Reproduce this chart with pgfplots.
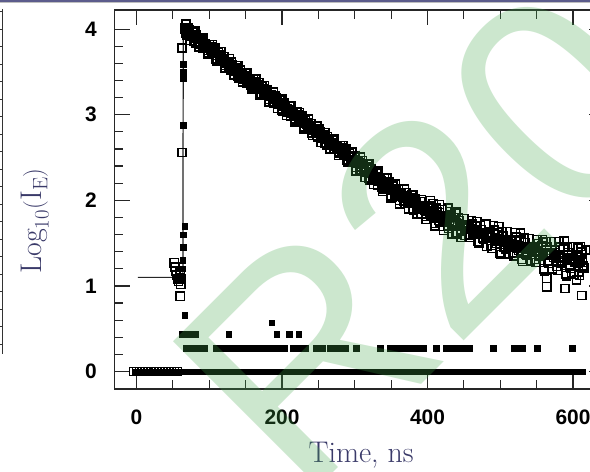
\documentclass[border=0pt]{standalone}
\usepackage{fontspec}
\usepackage{pgfplots}
\pgfplotsset{compat=1.18}
\newfontfamily\tickfont{Liberation Sans}
\newfontfamily\wmfont{Liberation Sans}
\definecolor{navy}{RGB}{58,58,105}
\definecolor{wmgreen}{RGB}{67,168,75}
\definecolor{barblue}{RGB}{92,92,140}
\begin{document}
\begin{tikzpicture}[x=1bp,y=1bp]
\path[use as bounding box] (0,0) rectangle (590,472);
\begin{scope}
\clip (0,0) rectangle (590,472);
\fill[white] (0,0) rectangle (590,472);
\fill[barblue] (0,469.7) rectangle (590,472);
\fill[black!25] (0,468.8) rectangle (590,469.7);
\draw[line width=1.1bp, black!80] (2.7,463) -- (2.7,118);
\foreach \yy in {11.7,29.2,...,346} \draw[line width=1bp, black!80] (0,472-\yy) -- (2.7,472-\yy);
\begin{axis}[
  at={(114.5bp,83bp)}, anchor=south west,
  scale only axis, width=489.76bp, height=378.95bp,
  xmin=-30.2, xmax=643, ymin=-0.204, ymax=4.223,
  axis line style={line width=1.3bp, black!85},
  tick align=inside, xtick pos=both, ytick pos=both,
  xticklabel pos=lower, yticklabel pos=left,
  major tick length=15bp, minor tick length=8.5bp,
  major tick style={line width=1.2bp, black!85},
  minor tick style={line width=1.2bp, black!85},
  xtick={0,200,400,600}, minor x tick num=3,
  ytick={0,1,2,3,4}, minor y tick num=4,
  /pgf/number format/assume math mode=true,
  tick label style={font=\tickfont\bfseries\fontsize{21}{21}\selectfont, inner sep=0pt},
  xticklabel style={anchor=north, yshift=-21bp},
  yticklabel style={anchor=east, xshift=-17.5bp},
  xlabel={Time, ns},
  ylabel={$\mathrm{Log}_{10}(\mathrm{I}_{\mathrm{E}})$},
  label style={font=\fontsize{30}{36}\selectfont, text=navy},
  xlabel style={at={(axis description cs:0.5036,-0.195)}, anchor=base},
  ylabel style={at={(axis description cs:-0.1624,0.443)}, anchor=center},
  clip=false,
]
% instrument response (filled squares)
\addplot[only marks, mark=square*, mark size=2.8bp, mark options={fill=black, draw=black, line width=0.4bp}] coordinates {
(-2,0)(3,0)(8,0)(13,0)(18,0)(23,0)(28,0)(33,0)(38,0)(43,0)(48,0)(53,0)(58,0)(63,0)(68,0)(73,0)(78,0)(83,0)(88,0)(93,0)(98,0)
(103,0)(108,0)(113,0)(118,0)(123,0)(128,0)(133,0)(138,0)(143,0)(148,0)(153,0)(158,0)(163,0)(168,0)(173,0)(178,0)(183,0)(188,0)(193,0)(198,0)
(203,0)(208,0)(213,0)(218,0)(223,0)(228,0)(233,0)(238,0)(243,0)(248,0)(253,0)(258,0)(263,0)(268,0)(273,0)(278,0)(283,0)(288,0)(293,0)(298,0)
(303,0)(308,0)(313,0)(318,0)(323,0)(328,0)(333,0)(338,0)(343,0)(348,0)(353,0)(358,0)(363,0)(368,0)(373,0)(378,0)(383,0)(388,0)(393,0)(398,0)
(403,0)(408,0)(413,0)(418,0)(423,0)(428,0)(433,0)(438,0)(443,0)(448,0)(453,0)(458,0)(463,0)(468,0)(473,0)(478,0)(483,0)(488,0)(493,0)(498,0)
(503,0)(508,0)(513,0)(518,0)(523,0)(528,0)(533,0)(538,0)(543,0)(548,0)(553,0)(558,0)(563,0)(568,0)(573,0)(578,0)(583,0)(588,0)(593,0)(598,0)
(603,0)(608,0)(613,0)
(68,0.271)(73,0.271)(78,0.271)(83,0.271)(88,0.271)(93,0.271)
(109,0.271)(114,0.271)(119,0.271)(124,0.271)(129,0.271)(134,0.271)(139,0.271)(144,0.271)(149,0.271)(154,0.271)(159,0.271)(164,0.271)(169,0.271)(174,0.271)(179,0.271)(184,0.271)(189,0.271)(194,0.271)(199,0.271)(203,0.271)
(215,0.271)(220,0.271)(225,0.271)(230,0.271)(232,0.271)
(247,0.271)(251,0.271)(255,0.271)
(266,0.271)(271,0.271)(276,0.271)(281,0.271)(287,0.271)
(302,0.271)(335,0.271)
(349,0.271)(354,0.271)(359,0.271)(364,0.271)(369,0.271)(374,0.271)(379,0.271)(384,0.271)(389,0.271)(394,0.271)(395,0.271)
(412,0.271)
(425,0.271)(430,0.271)(435,0.271)(440,0.271)(445,0.271)(450,0.271)(455,0.271)(457,0.271)
(490,0.271)(519,0.271)(527,0.271)(531,0.271)(551,0.271)(599,0.271)
(62.5,0.435)(67,0.435)(72,0.435)(77,0.435)(80.5,0.435)(127,0.435)(193,0.435)(209.6,0.435)(223,0.435)
(186,0.57)(66.5,0.66)
(63,1.1)(63.5,1.2)(63.5,1.3)(64,1.45)(64,1.6)(66.5,1.70)
(64,2.88)(64,3.59)(64,3.5)(64,3.42)
};
% decay data (open squares)
\addplot[only marks, mark=square, mark size=4.1bp, mark options={line width=1.45bp, draw=black}] coordinates {
(-4,0)(0,0)(4,0)(8,0)(12,0)(16,0)(20,0)(24,0)(28,0)(32,0)(36,0)(40,0)(44,0)(48,0)(52,0)(56,0)
(52,1.27)(53,1.22)(54,1.17)(55,1.13)(57,1.08)(58,1.05)(59,1.10)(60,1.15)(61,1.02)(62,1.08)(60,0.88)
(62.5,2.56)(62.5,3.78)
(66,4.012)(69,3.932)(72,3.995)(75,3.921)(78,3.979)(81,3.839)(84,3.902)(87,3.828)(90,3.886)(93,3.811)
(96,3.809)(99,3.729)(102,3.792)(105,3.718)(108,3.776)(111,3.635)(114,3.699)(117,3.624)(120,3.682)(123,3.608)
(126,3.605)(129,3.525)(132,3.588)(135,3.514)(138,3.572)(141,3.431)(144,3.495)(147,3.420)(150,3.478)(153,3.405)
(156,3.404)(159,3.324)(162,3.389)(165,3.316)(168,3.375)(171,3.236)(174,3.300)(177,3.227)(180,3.286)(183,3.213)
(186,3.212)(189,3.132)(192,3.197)(195,3.124)(198,3.183)(201,3.043)(204,3.108)(207,3.034)(210,3.092)(213,3.018)
(216,3.016)(219,2.937)(222,3.001)(225,2.927)(228,2.985)(231,2.845)(234,2.910)(237,2.836)(240,2.894)(243,2.820)
(246,2.818)(249,2.739)(252,2.803)(255,2.730)(258,2.789)(261,2.650)(264,2.714)(267,2.641)(270,2.700)(273,2.627)
(276,2.626)(279,2.546)(282,2.611)(285,2.538)(288,2.597)(291,2.458)(294,2.522)(297,2.449)(300,2.524)(303,2.432)
(306,2.435)(309,2.335)(312,2.426)(315,2.334)(318,2.418)(321,2.237)(324,2.329)(327,2.236)(330,2.320)(333,2.228)
(336,2.231)(339,2.131)(342,2.222)(345,2.130)(348,2.214)(351,2.035)(354,2.132)(357,2.045)(360,2.134)(363,2.047)
(366,2.056)(369,1.961)(372,2.058)(375,1.971)(378,2.060)(381,1.885)(384,1.982)(387,1.895)(390,1.984)(393,1.897)
(396,1.906)(399,1.811)(402,1.935)(405,1.816)(408,1.961)(411,1.710)(414,1.868)(417,1.749)(420,1.894)(423,1.775)
(426,1.800)(429,1.670)(432,1.827)(435,1.708)(438,1.853)(441,1.602)(444,1.760)(447,1.641)(450,1.786)(453,1.668)
(456,1.695)(459,1.565)(462,1.724)(465,1.606)(468,1.752)(471,1.503)(474,1.661)(477,1.544)(480,1.722)(483,1.568)
(486,1.607)(489,1.437)(492,1.652)(495,1.498)(498,1.696)(501,1.367)(504,1.583)(507,1.432)(510,1.632)(513,1.480)
(516,1.520)(519,1.352)(522,1.569)(525,1.417)(528,1.617)(531,1.289)(534,1.506)(537,1.354)(540,1.554)(543,1.402)
(546,1.442)(549,1.275)(552,1.492)(555,1.342)(558,1.544)(561,1.178)(564,1.452)(567,1.266)(570,1.520)(573,1.334)
(576,1.388)(579,1.182)(582,1.456)(585,1.270)(588,1.524)(591,1.118)(594,1.392)(597,1.206)(600,1.460)(603,1.274)
(606,1.328)(609,1.122)(612,1.396)(615,1.210)
(67.5,3.954)(70.5,4.020)(73.5,3.937)(76.5,3.959)(79.5,3.855)(82.5,3.931)(85.5,3.844)(88.5,3.854)(91.5,3.780)(94.5,3.825)
(97.5,3.751)(100.5,3.821)(103.5,3.734)(106.5,3.756)(109.5,3.652)(112.5,3.727)(115.5,3.641)(118.5,3.650)(121.5,3.576)(124.5,3.622)
(127.5,3.547)(130.5,3.617)(133.5,3.530)(136.5,3.552)(139.5,3.448)(142.5,3.523)(145.5,3.437)(148.5,3.446)(151.5,3.373)(154.5,3.420)
(157.5,3.346)(160.5,3.417)(163.5,3.332)(166.5,3.355)(169.5,3.252)(172.5,3.328)(175.5,3.243)(178.5,3.254)(181.5,3.181)(184.5,3.228)
(187.5,3.154)(190.5,3.225)(193.5,3.140)(196.5,3.163)(199.5,3.059)(202.5,3.136)(205.5,3.050)(208.5,3.060)(211.5,2.986)(214.5,3.032)
(217.5,2.959)(220.5,3.029)(223.5,2.943)(226.5,2.965)(229.5,2.861)(232.5,2.938)(235.5,2.852)(238.5,2.862)(241.5,2.788)(244.5,2.834)
(247.5,2.761)(250.5,2.831)(253.5,2.746)(256.5,2.769)(259.5,2.666)(262.5,2.742)(265.5,2.657)(268.5,2.668)(271.5,2.595)(274.5,2.642)
(277.5,2.568)(280.5,2.639)(283.5,2.554)(286.5,2.577)(289.5,2.474)(292.5,2.550)(295.5,2.465)(298.5,2.476)(301.5,2.386)(304.5,2.454)
(307.5,2.361)(310.5,2.461)(313.5,2.352)(316.5,2.388)(319.5,2.256)(322.5,2.363)(325.5,2.255)(328.5,2.274)(331.5,2.182)(334.5,2.250)
(337.5,2.157)(340.5,2.257)(343.5,2.148)(346.5,2.184)(349.5,2.053)(352.5,2.164)(355.5,2.061)(358.5,2.086)(361.5,1.999)(364.5,2.072)
(367.5,1.985)(370.5,2.090)(373.5,1.987)(376.5,2.028)(379.5,1.901)(382.5,2.014)(385.5,1.911)(388.5,1.936)(391.5,1.849)(394.5,1.922)
(397.5,1.835)(400.5,1.941)(403.5,1.834)(406.5,1.907)(409.5,1.728)(412.5,1.909)(415.5,1.767)(418.5,1.816)(421.5,1.697)(424.5,1.818)
(427.5,1.699)(430.5,1.869)(433.5,1.726)(436.5,1.799)(439.5,1.620)(442.5,1.801)(445.5,1.659)(448.5,1.708)(451.5,1.589)(454.5,1.712)
(457.5,1.594)(460.5,1.765)(463.5,1.623)(466.5,1.697)(469.5,1.520)(472.5,1.702)(475.5,1.561)(478.5,1.611)(481.5,1.461)(484.5,1.628)
(487.5,1.474)(490.5,1.705)(493.5,1.519)(496.5,1.621)(499.5,1.388)(502.5,1.635)(505.5,1.452)(508.5,1.524)(511.5,1.372)(514.5,1.540)
(517.5,1.388)(520.5,1.621)(523.5,1.437)(526.5,1.541)(529.5,1.309)(532.5,1.558)(535.5,1.374)(538.5,1.446)(541.5,1.294)(544.5,1.462)
(547.5,1.311)(550.5,1.544)(553.5,1.361)(556.5,1.467)(559.5,1.201)(562.5,1.515)(565.5,1.289)(568.5,1.383)(571.5,1.197)(574.5,1.411)
(577.5,1.225)(580.5,1.519)(583.5,1.293)(586.5,1.427)(589.5,1.141)(592.5,1.455)(595.5,1.229)(598.5,1.323)(601.5,1.137)(604.5,1.351)
(607.5,1.165)(610.5,1.459)(613.5,1.233)
(66.75,4.000)(69.75,3.980)(72.75,3.959)(75.75,3.939)(78.75,3.919)(81.75,3.899)(84.75,3.878)(87.75,3.858)(90.75,3.838)(93.75,3.817)
(96.75,3.797)(99.75,3.777)(102.75,3.756)(105.75,3.736)(108.75,3.716)(111.75,3.695)(114.75,3.675)(117.75,3.654)(120.75,3.634)(123.75,3.614)
(126.75,3.593)(129.75,3.573)(132.75,3.552)(135.75,3.532)(138.75,3.512)(141.75,3.491)(144.75,3.471)(147.75,3.450)(150.75,3.430)(153.75,3.411)
(156.75,3.392)(159.75,3.372)(162.75,3.353)(165.75,3.334)(168.75,3.315)(171.75,3.296)(174.75,3.276)(177.75,3.257)(180.75,3.238)(183.75,3.219)
(186.75,3.200)(189.75,3.180)(192.75,3.161)(195.75,3.142)(198.75,3.123)(201.75,3.103)(204.75,3.084)(207.75,3.064)(210.75,3.044)(213.75,3.024)
(216.75,3.004)(219.75,2.985)(222.75,2.965)(225.75,2.945)(228.75,2.925)(231.75,2.905)(234.75,2.886)(237.75,2.866)(240.75,2.846)(243.75,2.826)
(246.75,2.806)(249.75,2.787)(252.75,2.767)(255.75,2.748)(258.75,2.729)(261.75,2.710)(264.75,2.690)(267.75,2.671)(270.75,2.652)(273.75,2.633)
(276.75,2.614)(279.75,2.594)(282.75,2.575)(285.75,2.556)(288.75,2.537)(291.75,2.518)(294.75,2.498)(297.75,2.479)(300.75,2.460)(303.75,2.440)
(306.75,2.419)(309.75,2.399)(312.75,2.378)(315.75,2.358)(318.75,2.338)(321.75,2.317)(324.75,2.297)(327.75,2.276)(330.75,2.256)(333.75,2.236)
(336.75,2.215)(339.75,2.195)(342.75,2.174)(345.75,2.154)(348.75,2.134)(351.75,2.115)(354.75,2.100)(357.75,2.085)(360.75,2.070)(363.75,2.055)
(366.75,2.040)(369.75,2.025)(372.75,2.010)(375.75,1.995)(378.75,1.980)(381.75,1.965)(384.75,1.950)(387.75,1.935)(390.75,1.920)(393.75,1.905)
(396.75,1.890)(399.75,1.875)(402.75,1.863)(405.75,1.852)(408.75,1.841)(411.75,1.830)(414.75,1.820)(417.75,1.809)(420.75,1.798)(423.75,1.787)
(426.75,1.776)(429.75,1.766)(432.75,1.755)(435.75,1.744)(438.75,1.733)(441.75,1.722)(444.75,1.712)(447.75,1.701)(450.75,1.690)(453.75,1.680)
(456.75,1.671)(459.75,1.661)(462.75,1.652)(465.75,1.642)(468.75,1.632)(471.75,1.623)(474.75,1.613)(477.75,1.604)(480.75,1.594)(483.75,1.584)
(486.75,1.575)(489.75,1.565)(492.75,1.556)(495.75,1.546)(498.75,1.536)(501.75,1.527)(504.75,1.519)(507.75,1.512)(510.75,1.504)(513.75,1.496)
(516.75,1.488)(519.75,1.480)(522.75,1.473)(525.75,1.465)(528.75,1.457)(531.75,1.449)(534.75,1.442)(537.75,1.434)(540.75,1.426)(543.75,1.418)
(546.75,1.410)(549.75,1.403)(552.75,1.396)(555.75,1.390)(558.75,1.384)(561.75,1.378)(564.75,1.372)(567.75,1.366)(570.75,1.360)(573.75,1.354)
(576.75,1.348)(579.75,1.342)(582.75,1.336)(585.75,1.330)(588.75,1.324)(591.75,1.318)(594.75,1.312)(597.75,1.306)(600.75,1.300)(603.75,1.294)
(606.75,1.288)(609.75,1.282)(612.75,1.276)
(68,4.061)(74,3.871)(80,3.980)(86,3.790)(92,3.899)(98,3.709)(104,3.818)(110,3.627)(116,3.736)(122,3.545)
(128,3.655)(134,3.464)(140,3.573)(146,3.382)(152,3.492)(158,3.304)(164,3.415)(170,3.227)(176,3.339)(182,3.150)
(188,3.262)(194,3.073)(200,3.185)(206,2.995)(212,3.106)(218,2.916)(224,3.027)(230,2.837)(236,2.947)(242,2.758)
(248,2.868)(254,2.679)(260,2.791)(266,2.603)(272,2.714)(278,2.526)(284,2.637)(290,2.449)(296,2.561)(302,2.346)
(308,2.506)(314,2.265)(320,2.424)(326,2.183)(332,2.342)(338,2.102)(344,2.261)(350,2.020)(356,2.190)(362,1.960)
(368,2.130)(374,1.900)(380,2.070)(386,1.840)(392,2.010)(398,1.780)(404,1.996)(410,1.694)(416,1.952)(422,1.651)
(428,1.909)(434,1.608)(440,1.866)(446,1.564)
(564,0.99)(564,1.09)(589,0.97)(612,0.89)(605,1.07)(598,1.15)(559,1.51)(607,1.44)(617,1.42)
};
% fitted curve
\addplot[no marks, line width=1.2bp, black!85] coordinates {
(2,1.1)(63.8,1.1)(64.3,4.02)(66,4.0)(100,3.77)(150,3.43)(200,3.11)(250,2.78)(300,2.46)(350,2.12)(400,1.87)(450,1.69)(500,1.53)(550,1.40)(600,1.30)(616,1.27)
};
\end{axis}
\node[rotate=45, text=wmgreen, opacity=0.27, font=\wmfont\fontsize{300}{300}\selectfont, anchor=center] at (540,352) {R2009};
\end{scope}
\end{tikzpicture}
\end{document}
